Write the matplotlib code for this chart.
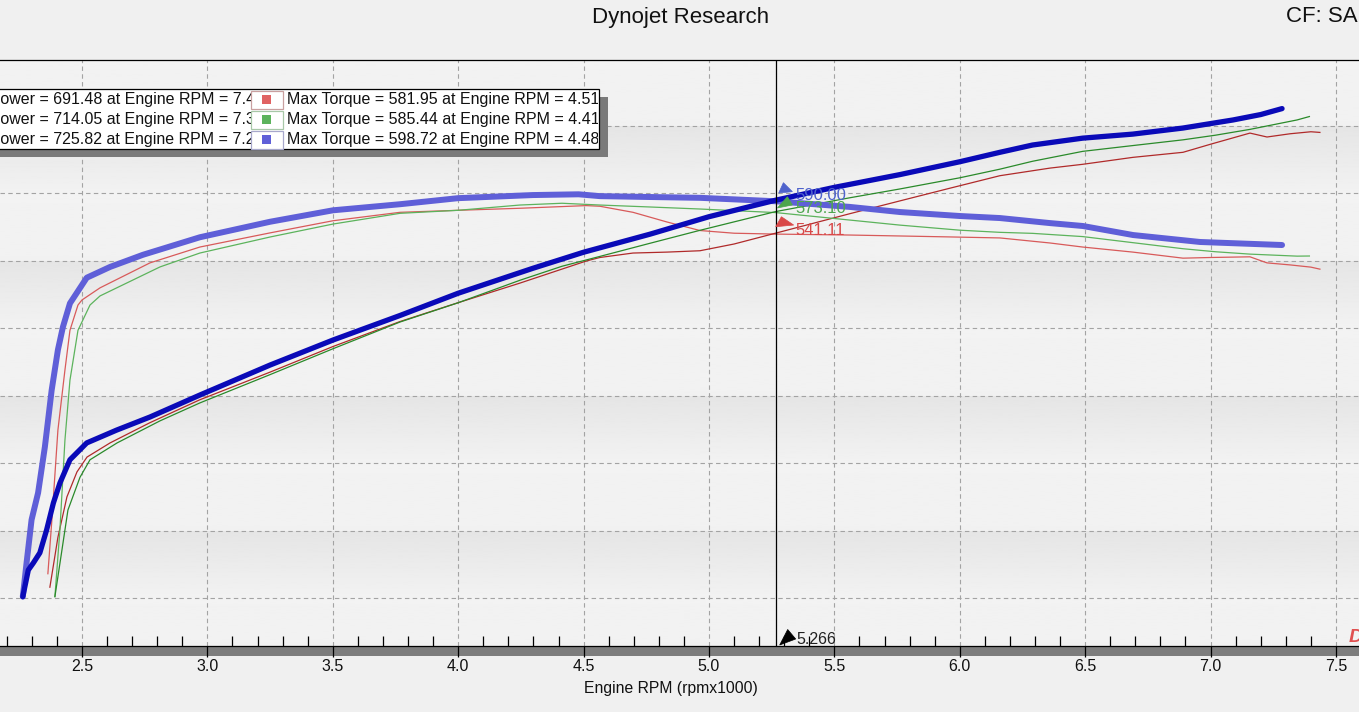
import numpy as np
import matplotlib
matplotlib.use("Agg")
import matplotlib.pyplot as plt
from matplotlib.patches import Rectangle, Polygon
import matplotlib.transforms as mtransforms
from matplotlib.ticker import MultipleLocator

plt.rcParams['font.family'] = ['Liberation Sans', 'DejaVu Sans']

# ---------------- data ----------------
title = "Dynojet Research"
cf_text = "CF: SAE"
x_label = "Engine RPM (rpmx1000)"
x_ticks = [2.5, 3.0, 3.5, 4.0, 4.5, 5.0, 5.5, 6.0, 6.5, 7.0, 7.5]

# run 1 (red)
red_tq_rpm = [2.364, 2.380, 2.404, 2.432, 2.452, 2.484, 2.500, 2.572, 2.771, 2.970, 3.250, 3.501,
              3.768, 4.000, 4.246, 4.510, 4.565, 4.697, 4.833, 4.964, 5.100, 5.266, 5.562, 5.762,
              5.960, 6.160, 6.360, 6.490, 6.690, 6.890, 7.000, 7.157, 7.225, 7.317, 7.400, 7.436]
red_tq = [36, 116, 249, 338, 397, 434.5, 442, 460, 497, 520.5, 541.5, 559.5,
          572, 575, 578, 581.95, 581, 572, 557.6, 545, 541, 539.7, 538.3, 536.9,
          535.5, 534, 526.5, 520.5, 513, 504, 505, 506, 497, 494, 490.7, 487.7]
red_hp_rpm = [2.372, 2.404, 2.440, 2.480, 2.520, 2.612, 2.771, 2.970, 3.250, 3.501, 3.768, 4.000,
              4.246, 4.510, 4.565, 4.697, 4.833, 4.964, 5.100, 5.266, 5.562, 5.762, 5.960, 6.160,
              6.360, 6.490, 6.690, 6.890, 7.000, 7.157, 7.225, 7.317, 7.400, 7.436]
red_hp = [16, 90, 150, 187, 209, 230, 260, 294, 335, 373, 410, 438,
          467, 499.7, 505, 511.6, 513, 515, 525, 541.11, 570, 589, 607.7, 626.3,
          637.6, 643.2, 653.5, 661, 673, 689.5, 683.7, 688.5, 691.48, 690.5]

# run 2 (green)
green_tq_rpm = [2.392, 2.412, 2.432, 2.452, 2.484, 2.532, 2.572, 2.811, 2.970, 3.250, 3.501, 3.768,
                4.000, 4.246, 4.414, 4.565, 4.765, 4.964, 5.266, 5.562, 5.762, 6.000, 6.160, 6.290,
                6.490, 6.690, 6.890, 7.020, 7.157, 7.345, 7.394]
green_tq = [2, 101, 234, 323, 397, 434.5, 448, 491, 511.6, 535.4, 554.6, 570.5,
            575, 582.8, 585.44, 582.8, 579.9, 576.9, 571.6, 560.5, 553, 545.5, 542.3, 540.8,
            536, 527, 518, 513.5, 510, 507, 507.2]
green_hp_rpm = [2.392, 2.420, 2.444, 2.492, 2.532, 2.640, 2.811, 2.970, 3.250, 3.501, 3.768, 4.000,
                4.246, 4.414, 4.565, 4.765, 4.964, 5.266, 5.562, 5.762, 6.000, 6.160, 6.290, 6.490,
                6.690, 6.890, 7.020, 7.157, 7.345, 7.394]
green_hp = [2, 71, 130.5, 179, 205, 230, 262.7, 289.3, 331.3, 369.7, 409.3, 437.9,
            471.2, 492, 506.6, 526.1, 545.3, 573.1, 593.6, 606.7, 623.2, 636, 647.7, 662.4,
            671, 679.5, 686.4, 695, 709, 714.05]

# run 3 (blue)
blue_tq_rpm = [2.264, 2.279, 2.299, 2.325, 2.352, 2.379, 2.404, 2.424, 2.452, 2.519, 2.612, 2.743,
               2.839, 2.970, 3.250, 3.501, 3.768, 4.000, 4.298, 4.480, 4.565, 4.765, 4.964, 5.266,
               5.562, 5.762, 6.001, 6.160, 6.360, 6.491, 6.691, 6.958, 7.285]
blue_tq = [2, 52, 116, 156, 224, 308, 368, 402, 437, 475, 491, 509,
           520, 535, 558, 575, 584, 593, 597.6, 598.72, 596, 594.7, 593.5, 588.4,
           580, 572.4, 566.5, 563.5, 556, 551.7, 538.3, 528, 523.5]
blue_hp_rpm = [2.264, 2.286, 2.306, 2.332, 2.359, 2.386, 2.412, 2.452, 2.519, 2.638, 2.771, 2.970,
               3.250, 3.501, 3.768, 4.000, 4.298, 4.500, 4.765, 5.000, 5.266, 5.500, 5.762, 6.000,
               6.160, 6.290, 6.490, 6.690, 6.890, 7.090, 7.200, 7.285]
blue_hp = [2, 41.5, 52, 67, 101, 141, 170.5, 205, 230, 249, 268.4, 301,
           345.5, 382.6, 419, 452, 489, 512.8, 539.6, 565.5, 590.0, 609, 628, 647,
           661, 671.8, 682, 688, 697, 709, 717, 725.82]

max_power = [691.48, 714.05, 725.82]
max_power_rpm = [7.40, 7.39, 7.28]
max_torque = [581.95, 585.44, 598.72]
max_torque_rpm = [4.51, 4.41, 4.48]

cursor_rpm = 5.266
cursor_values = [541.11, 573.10, 590.00]

# ---------------- style ----------------
W, H = 1359, 712
fig = plt.figure(figsize=(W / 100, H / 100), dpi=100, facecolor='#f0f0f0')


def fx(px):
    return px / W


def fy(py):
    return 1 - py / H


X0, X1 = 2.1731, 7.5918
Y0, Y1 = -71.2, 797.9

ax = fig.add_axes([0, fy(646), 1, fy(60) - fy(646)])

# banded gradient background
edges = [Y0, 0, 100, 200, 300, 400, 500, 600, 700, Y1]
grad = np.linspace(0, 1, 64).reshape(-1, 1)
for lo, hi in zip(edges[:-1], edges[1:]):
    dark = lo >= 0 and int(round(lo / 100)) % 2 == 0
    if dark:
        vals = 0.948 - 0.05 * grad  # bottom light, top slightly darker
    else:
        vals = 0.945 + 0.005 * grad
    ax.imshow(vals, extent=(X0, X1, lo, hi), origin='lower', aspect='auto',
              cmap='gray', vmin=0, vmax=1, interpolation='bilinear', zorder=0)

ax.set_xlim(X0, X1)
ax.set_ylim(Y0, Y1)
ax.set_facecolor('#f0f0f0')

ax.set_xticks(x_ticks)
ax.set_xticklabels([f"{t:.1f}" for t in x_ticks])
ax.xaxis.set_minor_locator(MultipleLocator(0.1))
ax.set_yticks(np.arange(0, 800, 100))
ax.tick_params(axis='y', which='both', length=0, labelleft=False)
ax.tick_params(axis='x', which='major', direction='out', length=8, width=0.9,
               color='black', pad=1.5, labelsize=11.5, labelcolor='#111111')
ax.tick_params(axis='x', which='minor', direction='in', length=7.5, width=0.9, color='black')
ax.set_axisbelow(True)
ax.grid(True, which='major', linestyle=(0, (4, 3)), color='#a3a3a3', linewidth=0.8)

for side in ('left', 'right'):
    ax.spines[side].set_visible(False)
for side in ('top', 'bottom'):
    ax.spines[side].set_color('black')
    ax.spines[side].set_linewidth(0.9)

ax.set_xlabel(x_label, fontsize=11.3, color='#111111')
ax.xaxis.set_label_coords(671 / W, (fy(688) - fy(646)) / (fy(60) - fy(646)))
ax.xaxis.label.set_verticalalignment('center')

# curves
ax.plot(red_tq_rpm, red_tq, color='#d85a5a', lw=0.9, zorder=2)
ax.plot(red_hp_rpm, red_hp, color='#b02a2a', lw=0.9, zorder=2)
ax.plot(green_tq_rpm, green_tq, color='#5cb35c', lw=0.9, zorder=2)
ax.plot(green_hp_rpm, green_hp, color='#2a8a2a', lw=0.9, zorder=2)
ax.plot(blue_tq_rpm, blue_tq, color='#5f5fd8', lw=4.3, solid_capstyle='round',
        solid_joinstyle='round', zorder=3)
ax.plot(blue_hp_rpm, blue_hp, color='#0a0ab8', lw=3.8, solid_capstyle='round',
        solid_joinstyle='round', zorder=3)

# cursor
ax.axvline(cursor_rpm, color='black', lw=0.9, zorder=4)
cur_colors = ['#d94848', '#4ea64e', '#4f63cc']
tri_shapes = [
    [(0.057, 0.164), (0.0, 0.064), (0.18, 0.081)],
    [(0.117, 0.149), (0.017, 0.036), (0.167, 0.066)],
    [(0.077, 0.175), (0.03, 0.072), (0.167, 0.085)],
]
text_dy = [3, 2.6, 5]
for v, c, tri, dy in zip(cursor_values, cur_colors, tri_shapes, text_dy):
    tr = fig.dpi_scale_trans + mtransforms.ScaledTranslation(cursor_rpm, v, ax.transData)
    ax.add_artist(Polygon(tri, closed=True, transform=tr, facecolor=c, edgecolor=c,
                          lw=0.5, zorder=5))
    ax.annotate(f"{v:.2f}", xy=(cursor_rpm, v), xytext=(20, dy), textcoords='offset pixels',
                color=c, fontsize=12, ha='left', va='center', zorder=6)

# bottom cursor marker
trb = fig.dpi_scale_trans + mtransforms.ScaledTranslation(cursor_rpm, Y0, ax.transData)
ax.add_artist(Polygon([(0.04, 0.01), (0.12, 0.165), (0.2, 0.07)], closed=True, transform=trb,
                      facecolor='black', edgecolor='black', lw=0.5, zorder=5, clip_on=False))
ax.annotate(f"{cursor_rpm:.3f}", xy=(cursor_rpm, Y0), xytext=(21, 7), textcoords='offset pixels',
            color='#202020', fontsize=11.5, ha='left', va='center', zorder=1)

# gray band under the axis
fig.add_artist(Rectangle((0, fy(656)), 1, fy(646) - fy(656), transform=fig.transFigure,
                         facecolor='#7d7d7d', edgecolor='none', zorder=-1))

# titles
fig.text(fx(681), fy(17), title, ha='center', va='center', fontsize=16, color='#111111')
fig.text(fx(1286), fy(17), cf_text, ha='left', va='center', fontsize=16, color='#111111')
fig.text(fx(1349), fy(637), "D", ha='left', va='center', fontsize=14, color='#e05050',
         style='italic', weight='bold')

# legend box
fig.add_artist(Rectangle((fx(0), fy(157)), fx(608), fy(97) - fy(157), transform=fig.transFigure,
                         facecolor='#7a7a7a', edgecolor='none', zorder=5))
fig.add_artist(Rectangle((fx(-5), fy(149)), fx(604), fy(89) - fy(149), transform=fig.transFigure,
                         facecolor='white', edgecolor='black', lw=0.9, zorder=6))
sw_colors = ['#e06262', '#5cb35c', '#5f5fd8']
sw_edges = ['#c9a0a0', '#a8c8a8', '#a8a8cc']
for i in range(3):
    yc = 99.5 + 20 * i
    tp = fig.text(fx(-45), fy(yc), f"Max Power = {max_power[i]:.2f} at Engine RPM = {max_power_rpm[i]:.2f}",
                  ha='left', va='center', fontsize=11.5, color='#111111', zorder=7)
    tp.set_clip_box(mtransforms.TransformedBbox(
        mtransforms.Bbox.from_extents(fx(0), fy(yc + 10), fx(251), fy(yc - 10)), fig.transFigure))
    tp.set_clip_on(True)
    tt = fig.text(fx(287), fy(yc), f"Max Torque = {max_torque[i]:.2f} at Engine RPM = {max_torque_rpm[i]:.2f}",
                  ha='left', va='center', fontsize=11.5, color='#111111', zorder=7)
    tt.set_clip_box(mtransforms.TransformedBbox(
        mtransforms.Bbox.from_extents(fx(283), fy(yc + 10), fx(598), fy(yc - 10)), fig.transFigure))
    tt.set_clip_on(True)
    fig.add_artist(Rectangle((fx(251), fy(yc + 9)), fx(32), fy(yc - 9) - fy(yc + 9),
                             transform=fig.transFigure, facecolor='white', edgecolor=sw_edges[i],
                             lw=0.9, zorder=8))
    fig.add_artist(Rectangle((fx(262), fy(yc + 4.5)), fx(9), fy(yc - 4.5) - fy(yc + 4.5),
                             transform=fig.transFigure, facecolor=sw_colors[i], edgecolor='none',
                             zorder=9))

fig.savefig("out.png", dpi=100, facecolor=fig.get_facecolor())
